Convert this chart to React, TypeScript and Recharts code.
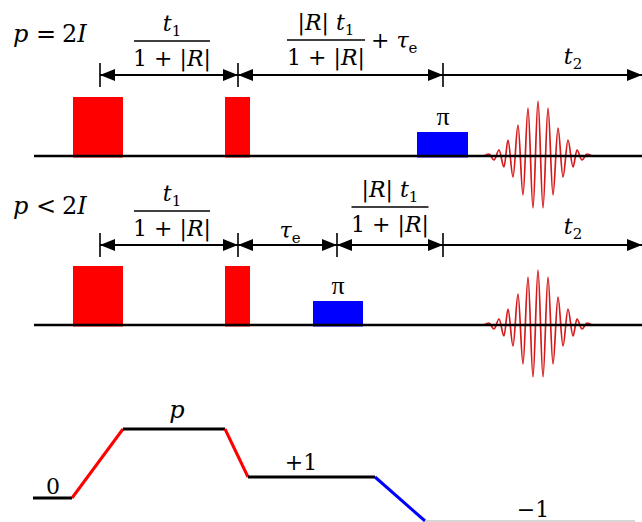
import { ComposedChart, Line, ReferenceArea, Scatter, XAxis, YAxis } from "recharts";

// diagram units: x = time axis (px-like), y = vertical position (px-like, top down)
const ROW_BASE = [156, 325];
const LINE_START = 34;
const LINE_END = 642;

// hard pulses, same in both rows
const RED_PULSES = [
	[73, 123],
	[225, 250],
];
const RED_HEIGHT = 59;

// pi pulse per row
const PI_PULSES = [
	[417, 468],
	[313, 363],
];
const PI_HEIGHT = 24;

// echo extrema (dy < 0 is up)
const ECHO_X = [484, 489, 494, 499, 504, 508, 513, 518, 523, 528, 533, 538, 543, 548, 553, 558, 563, 568, 573, 577, 582, 587, 592];
const ECHO_DY = [0, -2, 4, -6, 11, -16, 21, -31, 39, -48, 52, -55, 52, -48, 39, -28, 21, -16, 11, -6, 4, -2, 0];

// delay markers per row
const ARROW_Y = [75, 245];
const TICKS = [
	[100, 238, 443],
	[100, 238, 337, 443],
];
const TICK_HALF = 12;

// coherence transfer pathway
const COH_X = [33, 72, 123, 225, 248, 375, 425, 635];
const COH_Y = [498, 498, 429, 429, 477, 477, 521, 521];
const COH_KIND = ["level", "red", "level", "red", "level", "blue", "last"];

const LABELS = [
	{ id: "pEq", x: 13, y: 42 },
	{ id: "fracA", x: 172, y: 41 },
	{ id: "fracB", x: 326, y: 40 },
	{ id: "plusTau", x: 371, y: 48 },
	{ id: "t2", x: 573, y: 64 },
	{ id: "pi", x: 443, y: 125 },
	{ id: "pLt", x: 13, y: 214 },
	{ id: "fracA", x: 172, y: 211 },
	{ id: "tau", x: 290, y: 238 },
	{ id: "fracC", x: 390, y: 207 },
	{ id: "t2", x: 573, y: 234 },
	{ id: "pi", x: 338, y: 294 },
	{ id: "zero", x: 53, y: 494 },
	{ id: "p", x: 177, y: 418 },
	{ id: "plus1", x: 301, y: 470 },
	{ id: "minus1", x: 533, y: 517 },
];

const SERIF = "'DejaVu Serif', 'Liberation Serif', serif";
const FS = 22;
const SUB = 15;
const COH_COLOR: Record<string, string> = { level: "#000", red: "#ff0000", blue: "#0000ff", last: "#c8c8c8" };

const seg = (x1: number, y1: number, x2: number, y2: number) => [
	{ x: x1, y: y1 },
	{ x: x2, y: y2 },
];

const T1 = (
	<>
		<tspan fontStyle="italic">t</tspan>
		<tspan fontSize={SUB} dy={5}>1</tspan>
	</>
);
const DEN = (
	<>
		<tspan>1 + |</tspan>
		<tspan fontStyle="italic">R</tspan>
		<tspan>|</tspan>
	</>
);
const RT1 = (
	<>
		<tspan>|</tspan>
		<tspan fontStyle="italic">R</tspan>
		<tspan>| </tspan>
		<tspan fontStyle="italic">t</tspan>
		<tspan fontSize={SUB} dy={5}>1</tspan>
	</>
);

function Frac({ cx, cy, w, num }: { cx: number; cy: number; w: number; num: any }) {
	return (
		<g fontFamily={SERIF} fontSize={FS} fill="#000">
			<text x={cx} y={cy - 10} textAnchor="middle">
				{num}
			</text>
			<line x1={cx - w / 2} x2={cx + w / 2} y1={cy} y2={cy} stroke="#000" strokeWidth={1.4} />
			<text x={cx} y={cy + 25} textAnchor="middle">
				{DEN}
			</text>
		</g>
	);
}

function Relation({ cx, cy, op }: { cx: number; cy: number; op: string }) {
	return (
		<text x={cx} y={cy} fontFamily={SERIF} fontSize={24}>
			<tspan fontStyle="italic">p</tspan>
			<tspan x={cx + 23}>{op}</tspan>
			<tspan x={cx + 49}>2</tspan>
			<tspan fontStyle="italic">I</tspan>
		</text>
	);
}

function Plain({
	cx,
	cy,
	children,
	italic,
	size,
	family,
}: { cx: number; cy: number; children: any; italic?: boolean; size?: number; family?: string }) {
	return (
		<text
			x={cx}
			y={cy}
			textAnchor="middle"
			fontFamily={family ?? SERIF}
			fontSize={size ?? FS}
			fontStyle={italic ? "italic" : "normal"}
		>
			{children}
		</text>
	);
}

function LabelShape(props: any) {
	const { cx, cy, payload } = props;
	switch (payload.id) {
		case "pEq":
			return <Relation cx={cx} cy={cy} op="=" />;
		case "pLt":
			return <Relation cx={cx} cy={cy} op="<" />;
		case "fracA":
			return <Frac cx={cx} cy={cy} w={76} num={T1} />;
		case "fracB":
			return <Frac cx={cx} cy={cy} w={78} num={RT1} />;
		case "fracC":
			return <Frac cx={cx} cy={cy} w={77} num={RT1} />;
		case "plusTau":
			return (
				<text x={cx} y={cy} fontFamily={SERIF} fontSize={FS}>
					<tspan>+ </tspan>
					<tspan fontStyle="italic">τ</tspan>
					<tspan fontSize={SUB} dy={5}>e</tspan>
				</text>
			);
		case "tau":
			return (
				<Plain cx={cx} cy={cy}>
					<tspan fontStyle="italic">τ</tspan>
					<tspan fontSize={SUB} dy={5}>e</tspan>
				</Plain>
			);
		case "t2":
			return (
				<Plain cx={cx} cy={cy}>
					<tspan fontStyle="italic">t</tspan>
					<tspan fontSize={SUB} dy={5}>2</tspan>
				</Plain>
			);
		case "pi":
			return (
				<Plain cx={cx} cy={cy} size={26} family="'Liberation Serif', serif">
					π
				</Plain>
			);
		case "zero":
			return <Plain cx={cx} cy={cy}>0</Plain>;
		case "p":
			return (
				<Plain cx={cx} cy={cy} italic size={24}>
					p
				</Plain>
			);
		case "plus1":
			return <Plain cx={cx} cy={cy}>+1</Plain>;
		case "minus1":
			return <Plain cx={cx} cy={cy}>−1</Plain>;
		default:
			return <g />;
	}
}

function ArrowHead(props: any) {
	const { cx, cy, payload } = props;
	const d = payload.dir;
	const L = 15;
	const h = 6;
	return <polygon points={`${cx},${cy} ${cx - d * L},${cy - h} ${cx - d * L},${cy + h}`} fill="#000" />;
}

export default function App() {
	const heads: { x: number; y: number; dir: number }[] = [];
	const arrowSegs: { x: number; y: number }[][] = [];
	const tickSegs: { x: number; y: number }[][] = [];
	TICKS.forEach((ticks, r) => {
		const y = ARROW_Y[r];
		ticks.forEach((t, i) => {
			tickSegs.push(seg(t, y - TICK_HALF, t, y + TICK_HALF));
			if (i < ticks.length - 1) {
				arrowSegs.push(seg(t, y, ticks[i + 1], y));
				heads.push({ x: t, y, dir: -1 }, { x: ticks[i + 1], y, dir: 1 });
			}
		});
		const last = ticks[ticks.length - 1];
		arrowSegs.push(seg(last, y, LINE_END, y));
		heads.push({ x: LINE_END, y, dir: 1 });
	});

	return (
		<div style={{ position: "absolute", left: 0, top: 0, background: "#fff" }}>
			<ComposedChart width={642} height={522} margin={{ top: 0, right: 0, bottom: 0, left: 0 }}>
				<XAxis type="number" dataKey="x" domain={[0, 642]} hide allowDataOverflow />
				<YAxis type="number" dataKey="y" domain={[0, 522]} reversed hide allowDataOverflow />

				{ROW_BASE.map((base, r) => (
					<Line
						key={`echo${r}`}
						data={ECHO_X.map((x, i) => ({ x, y: base + ECHO_DY[i] }))}
						dataKey="y"
						type="monotone"
						stroke="#d41a1a"
						strokeWidth={1.7}
						dot={false}
						isAnimationActive={false}
					/>
				))}
				{ROW_BASE.map((base, r) => (
					<Line
						key={`base${r}`}
						data={seg(LINE_START, base, LINE_END, base)}
						dataKey="y"
						stroke="#000"
						strokeWidth={2.6}
						dot={false}
						isAnimationActive={false}
					/>
				))}
				{ROW_BASE.flatMap((base, r) =>
					RED_PULSES.map(([x1, x2], i) => (
						<ReferenceArea
							key={`red${r}${i}`}
							x1={x1}
							x2={x2}
							y1={base - RED_HEIGHT}
							y2={base + 1.5}
							fill="#ff0000"
							fillOpacity={1}
							stroke="none"
						/>
					)),
				)}
				{ROW_BASE.map((base, r) => (
					<ReferenceArea
						key={`pi${r}`}
						x1={PI_PULSES[r][0]}
						x2={PI_PULSES[r][1]}
						y1={base - PI_HEIGHT}
						y2={base + 1.5}
						fill="#0000ff"
						fillOpacity={1}
						stroke="none"
					/>
				))}
				{arrowSegs.map((d, i) => (
					<Line key={`arr${i}`} data={d} dataKey="y" stroke="#000" strokeWidth={2} dot={false} isAnimationActive={false} />
				))}
				{tickSegs.map((d, i) => (
					<Line key={`tick${i}`} data={d} dataKey="y" stroke="#000" strokeWidth={1.6} dot={false} isAnimationActive={false} />
				))}
				{COH_KIND.map((k, i) => (
					<Line
						key={`coh${i}`}
						data={seg(COH_X[i], COH_Y[i], COH_X[i + 1], COH_Y[i + 1])}
						dataKey="y"
						stroke={COH_COLOR[k]}
						strokeWidth={k === "last" ? 1.5 : 3}
						dot={false}
						isAnimationActive={false}
					/>
				))}
				<Scatter data={heads} shape={ArrowHead} isAnimationActive={false} />
				<Scatter data={LABELS} shape={LabelShape} isAnimationActive={false} />
			</ComposedChart>
		</div>
	);
}
